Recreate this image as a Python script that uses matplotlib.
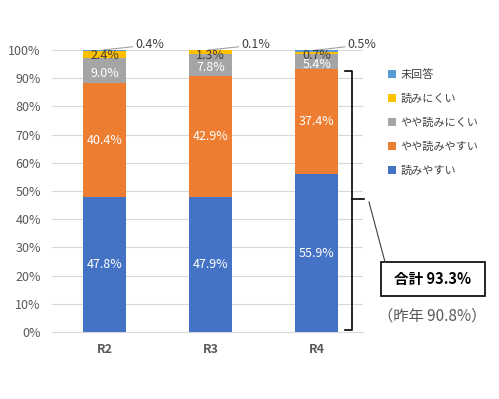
import matplotlib
matplotlib.use("Agg")
import matplotlib.pyplot as plt
from matplotlib.patches import Rectangle
import numpy as np

plt.rcParams['font.family'] = ['Noto Sans CJK JP', 'DejaVu Sans']

years = ["R2", "R3", "R4"]
series_names = ["読みやすい", "やや読みやすい", "やや読みにくい", "読みにくい", "未回答"]
yomiyasui = [47.8, 47.9, 55.9]
yaya_yasui = [40.4, 42.9, 37.4]
yaya_nikui = [9.0, 7.8, 5.4]
yominikui = [2.4, 1.3, 0.7]
mikaitou = [0.4, 0.1, 0.5]
total_label = "合計 93.3%"
last_year_label = "（昨年 90.8%）"

colors = ["#4472C4", "#ED7D31", "#A5A5A5", "#FFC000", "#5B9BD5"]
label_colors = ["white", "white", "white", "#404040", None]

fig = plt.figure(figsize=(4.99, 3.99), dpi=100)
ax = fig.add_axes([52 / 499, 1 - 332 / 399, 311 / 499, 282 / 399])

x = np.arange(len(years))
data = [yomiyasui, yaya_yasui, yaya_nikui, yominikui, mikaitou]
bottom = np.zeros(len(years))
handles = []
for k, (vals, name, col, lc) in enumerate(zip(data, series_names, colors, label_colors)):
    vals = np.array(vals)
    b = ax.bar(x, vals, 0.405, bottom=bottom, color=col, label=name, zorder=3)
    handles.append(b)
    for i, v in enumerate(vals):
        ymid = bottom[i] + v / 2
        if k == 2:
            ymid -= 1.0
        if k == 3:
            ymid = min(ymid, 98.0)
        if lc is not None:
            ax.text(x[i], ymid, f"{v:.1f}%", ha="center", va="center",
                    color=lc, fontsize=9, zorder=4)
        else:
            ax.annotate(f"{v:.1f}%", xy=(x[i] - 0.02, bottom[i] + v),
                        xytext=(x[i] + 0.29, 101.8), ha="left", va="center",
                        color="#404040", fontsize=9,
                        arrowprops=dict(arrowstyle="-", color="#A0A0A0", lw=0.8,
                                        shrinkA=0, shrinkB=0))
    bottom += vals

ax.set_ylim(0, 100)
ax.set_xlim(-0.495, 2.434)
ax.set_yticks(np.arange(0, 101, 10))
ax.set_yticklabels([f"{t}%" for t in range(0, 101, 10)])
ax.set_xticks(x)
ax.set_xticklabels(years, fontweight="bold")
ax.tick_params(colors="#595959", labelsize=9, length=0)
ax.tick_params(axis="y", pad=8)
ax.tick_params(axis="x", pad=8)
ax.grid(axis="y", color="#D9D9D9", lw=0.8, zorder=0)
for s in ["top", "right", "left"]:
    ax.spines[s].set_visible(False)
ax.spines["bottom"].set_color("#D9D9D9")

leg = fig.legend(handles[::-1], series_names[::-1], loc="upper left",
                 bbox_to_anchor=(378 / 499, 1 - 59 / 399), frameon=False,
                 fontsize=8, handlelength=0.7, handleheight=0.7,
                 labelspacing=1.25, handletextpad=0.4)
for t in leg.get_texts():
    t.set_color("#404040")


# bracket on the right
def px(xp, yp):
    return (xp / 499, 1 - yp / 399)


top_y = 1 - 71 / 399
bot_y = 1 - 330 / 399
mid_y = 1 - 199 / 399
bx = 352 / 499
fig.add_artist(plt.Line2D([345 / 499, bx, bx, 345 / 499], [top_y, top_y, bot_y, bot_y],
                          color="black", lw=1.2))
fig.add_artist(plt.Line2D([bx, 364 / 499], [mid_y, mid_y], color="black", lw=1.2))
fig.add_artist(plt.Line2D([369 / 499, 385 / 499], [1 - 202 / 399, 1 - 262 / 399],
                          color="#404040", lw=0.8))
fig.add_artist(Rectangle(px(381, 296), 104 / 499, 34 / 399, transform=fig.transFigure,
                         facecolor="white", edgecolor="black", lw=1.2))
fig.text(433 / 499, 1 - 279 / 399, total_label, ha="center", va="center",
         fontsize=10.5, fontweight="bold", color="black")
fig.text(432 / 499, 1 - 316 / 399, last_year_label, ha="center", va="center",
         fontsize=11, color="#595959")

fig.savefig("out.png", dpi=100)
